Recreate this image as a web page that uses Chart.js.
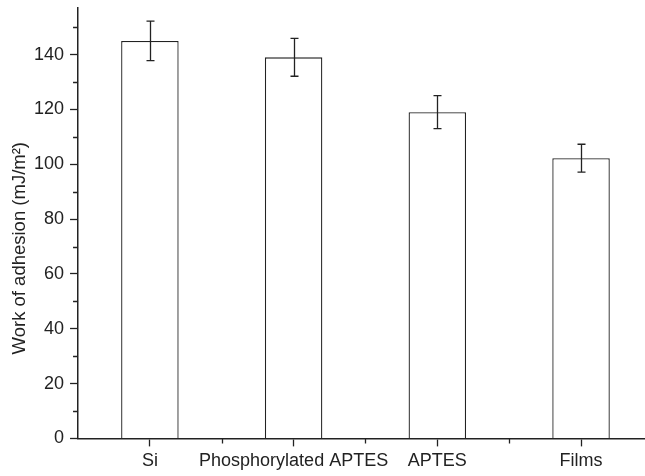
<!DOCTYPE html>
<html>
<head>
<meta charset="utf-8">
<script src="https://cdn.jsdelivr.net/npm/chart.js@4.4.1/dist/chart.umd.min.js"></script>
<style>
  html, body { margin: 0; padding: 0; background: #fff; }
  canvas { display: block; }
</style>
</head>
<body>
<canvas id="adhesion" width="645" height="476"></canvas>
<script>
const categories = ["Si", "Phosphorylated APTES", "APTES", "Films"];
const adhesion = [145, 139, 119, 102.2];
const errors = [7.2, 6.9, 6, 5.1];
const yTicks = [0, 20, 40, 60, 80, 100, 120, 140];
const yMinor = [10, 30, 50, 70, 90, 110, 130, 150];
const xMinor = [0.5, 1.5, 2.5];
const yTitle = 'Work of adhesion (mJ/m²)';

const ink = '#222';
const font = '"Liberation Sans", Arial, sans-serif';

// small ticks between the labelled ones
const minorTicks = {
  id: 'minorTicks',
  afterDraw(chart) {
    const {ctx, scales: {x, y}} = chart;
    ctx.save();
    ctx.strokeStyle = ink;
    ctx.lineWidth = 1.3;
    ctx.beginPath();
    yMinor.forEach(v => {
      const py = Math.round(y.getPixelForValue(v)) + 0.5;
      ctx.moveTo(x.left, py);
      ctx.lineTo(x.left - 5, py);
    });
    xMinor.forEach(v => {
      const px = Math.round(x.getPixelForValue(v)) + 0.5;
      ctx.moveTo(px, y.bottom);
      ctx.lineTo(px, y.bottom + 5);
    });
    ctx.stroke();
    ctx.restore();
  }
};

const errorBars = {
  id: 'errorBars',
  afterDatasetsDraw(chart) {
    const {ctx, scales: {x, y}} = chart;
    ctx.save();
    ctx.strokeStyle = ink;
    ctx.lineWidth = 1.3;
    ctx.beginPath();
    adhesion.forEach((v, i) => {
      const px = Math.round(x.getPixelForValue(i)) + 0.5;
      const top = y.getPixelForValue(v + errors[i]);
      const bot = y.getPixelForValue(v - errors[i]);
      ctx.moveTo(px, top); ctx.lineTo(px, bot);
      ctx.moveTo(px - 4, top); ctx.lineTo(px + 4, top);
      ctx.moveTo(px - 4, bot); ctx.lineTo(px + 4, bot);
    });
    ctx.stroke();
    ctx.restore();
  }
};

// y title sits a bit below the middle of the axis in the original
const axisTitle = {
  id: 'axisTitle',
  afterDraw(chart) {
    const {ctx, chartArea: a} = chart;
    ctx.save();
    ctx.translate(19.5, (a.top + a.bottom) / 2 + 25);
    ctx.rotate(-Math.PI / 2);
    ctx.font = '18.5px ' + font;
    ctx.fillStyle = ink;
    ctx.textAlign = 'center';
    ctx.textBaseline = 'middle';
    ctx.fillText(yTitle, 0, 0);
    ctx.restore();
  }
};

// keep the plot edges where the layout padding puts them
const noEdgePad = s => { s.paddingTop = 0; s.paddingBottom = 0; s.paddingLeft = 0; s.paddingRight = 0; };

Chart.defaults.font.family = font;
Chart.defaults.color = ink;

new Chart(document.getElementById('adhesion'), {
  type: 'bar',
  data: {
    datasets: [{
      data: adhesion.map((v, i) => ({x: i, y: v})),
      backgroundColor: '#fff',
      borderColor: ink,
      borderWidth: 1.3,
      barPercentage: 0.4,
      categoryPercentage: 1
    }]
  },
  options: {
    responsive: false,
    animation: false,
    layout: { padding: { left: 28, top: 8, right: 0, bottom: 0 } },
    plugins: {
      legend: { display: false },
      tooltip: { enabled: false }
    },
    scales: {
      x: {
        type: 'linear',
        min: -0.5,
        max: 3.445,
        offset: false,
        afterBuildTicks: s => { s.ticks = categories.map((c, i) => ({value: i})); },
        afterFit: noEdgePad,
        ticks: {
          callback: v => categories[v] ?? '',
          font: { size: 18, lineHeight: 1.2 },
          padding: 4,
          maxRotation: 0,
          autoSkip: false
        },
        grid: {
          offset: false,
          drawOnChartArea: false,
          tickLength: 8,
          tickColor: ink,
          tickWidth: 1.3
        },
        border: { color: ink, width: 1.5 }
      },
      y: {
        min: 0,
        max: 157,
        afterBuildTicks: s => { s.ticks = yTicks.map(v => ({value: v})); },
        afterFit: noEdgePad,
        ticks: {
          font: { size: 18 },
          padding: 6
        },
        grid: {
          drawOnChartArea: false,
          tickLength: 8,
          tickColor: ink,
          tickWidth: 1.3
        },
        border: { color: ink, width: 1.5 }
      }
    }
  },
  plugins: [minorTicks, errorBars, axisTitle]
});
</script>
</body>
</html>
